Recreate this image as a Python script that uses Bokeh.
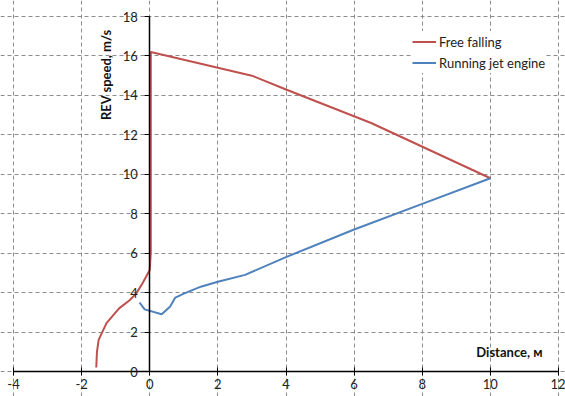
import math
from bokeh.plotting import figure
from bokeh.models import Range1d, LinearAxis, FixedTicker, Label, PrintfTickFormatter
from bokeh.embed import file_html
from bokeh.resources import INLINE

# Data
free_x = [-1.57, -1.55, -1.5, -1.27, -0.9, -0.6, -0.4, -0.22, 0.0, 0.03, 0.03, 3.0, 4.0, 6.5, 10.0]
free_y = [0.2, 1.0, 1.6, 2.45, 3.2, 3.6, 3.95, 4.45, 5.15, 6.0, 16.2, 15.0, 14.3, 12.6, 9.8]

jet_x = [-0.3, -0.15, 0.35, 0.6, 0.75, 1.0, 1.5, 2.0, 2.8, 4.0, 6.0, 8.0, 10.0]
jet_y = [3.5, 3.15, 2.9, 3.3, 3.75, 3.95, 4.3, 4.55, 4.9, 5.8, 7.2, 8.5, 9.8]

x_ticks = [-4, -2, 0, 2, 4, 6, 8, 10, 12]
y_ticks = [0, 2, 4, 6, 8, 10, 12, 14, 16, 18]

FONT = "Lato"
RED = "#C0504D"
BLUE = "#4F81BD"
TICK_COLOR = "#222222"

# plot box: x -4..12 spans canvas px 13..558, y 0..18 spans px 371..16
W, H = 565, 396
L, R, T, B = 13, 558, 16, 371
xs = (R - L) / (x_ticks[-1] - x_ticks[0])
ys = (B - T) / (y_ticks[-1] - y_ticks[0])
x_range = Range1d(x_ticks[0] - L / xs, x_ticks[-1] + (W - R) / xs)
y_range = Range1d(y_ticks[0] - (H - B) / ys, y_ticks[-1] + T / ys)

p = figure(width=W, height=H, output_backend="svg", toolbar_location=None,
           x_range=x_range, y_range=y_range,
           x_axis_location=None, y_axis_location=None,
           min_border=0)
p.outline_line_color = None
p.background_fill_color = "white"
p.border_fill_color = "white"

xaxis = LinearAxis(fixed_location=0, ticker=FixedTicker(ticks=x_ticks),
                   formatter=PrintfTickFormatter(format="%d"),
                   bounds=(x_ticks[0], x_ticks[-1]))
yaxis = LinearAxis(fixed_location=0, ticker=FixedTicker(ticks=y_ticks),
                   bounds=(y_ticks[0], y_ticks[-1]))
for ax in (xaxis, yaxis):
    ax.axis_line_color = "black"
    ax.axis_line_width = 1.5
    ax.major_tick_line_color = "black"
    ax.minor_tick_line_color = None
    ax.major_label_text_font = FONT
    ax.major_label_text_font_size = "13px"
    ax.major_label_text_color = TICK_COLOR
xaxis.major_tick_in = 4
xaxis.major_tick_out = 4
xaxis.major_label_standoff = 3
yaxis.major_tick_in = 0
yaxis.major_tick_out = 5
yaxis.major_label_standoff = 7
p.add_layout(xaxis, "below")
p.add_layout(yaxis, "left")

p.xgrid.ticker = FixedTicker(ticks=x_ticks)
p.ygrid.ticker = FixedTicker(ticks=y_ticks)
p.xgrid.bounds = (y_ticks[0], y_ticks[-1])
p.ygrid.bounds = (x_ticks[0], x_ticks[-1])
for g in (p.xgrid, p.ygrid):
    g.grid_line_color = "#8c8c8c"
    g.grid_line_dash = "4 3"
    g.grid_line_width = 1

p.line(free_x, free_y, line_color=RED, line_width=2, legend_label="Free falling")
p.line(jet_x, jet_y, line_color=BLUE, line_width=2, legend_label="Running jet engine")

p.legend.location = (412, 323)
p.legend.margin = 0
p.legend.padding = 5
p.legend.spacing = 0
p.legend.border_line_color = None
p.legend.background_fill_color = "white"
p.legend.background_fill_alpha = 1
p.legend.label_text_font = FONT
p.legend.label_text_font_size = "13px"
p.legend.label_text_color = TICK_COLOR
p.legend.glyph_width = 24
p.legend.glyph_height = 21
p.legend.label_height = 21
p.legend.label_standoff = 3

ylabel = Label(x=-1.29, y=15.05, text="REV speed, m/s", angle=math.pi / 2,
               text_align="center", text_baseline="middle",
               text_font=FONT, text_font_size="13px", text_font_style="bold",
               text_color="#111111")
xlabel = Label(x=11.53, y=1.0, text="Distance, м",
               text_align="right", text_baseline="middle",
               text_font=FONT, text_font_size="13px", text_font_style="bold",
               text_color="#111111")
p.add_layout(ylabel)
p.add_layout(xlabel)

open("out.html", "w").write(file_html(p, INLINE))
